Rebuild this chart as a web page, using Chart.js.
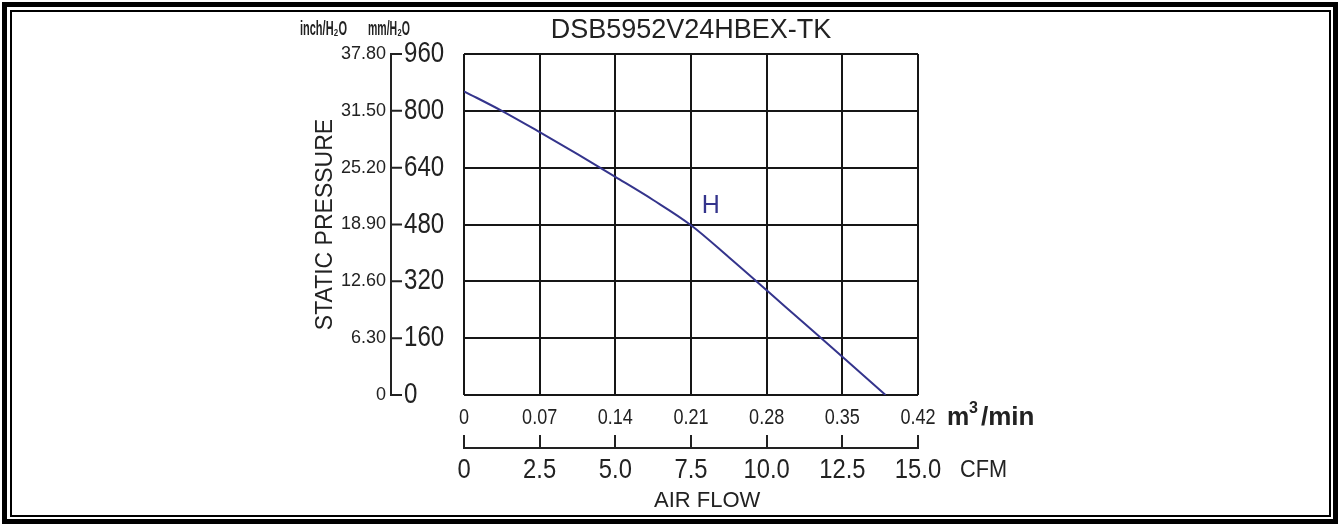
<!DOCTYPE html>
<html>
<head>
<meta charset="utf-8">
<title>DSB5952V24HBEX-TK</title>
<script src="https://cdn.jsdelivr.net/npm/chart.js@4.4.1/dist/chart.umd.min.js"></script>
<style>
  html, body { margin: 0; padding: 0; background: #fff; }
  #wrap { position: relative; width: 1339px; height: 524px; overflow: hidden; }
  #pqChart { position: absolute; left: 0; top: 0; }
  .frame { position: absolute; box-sizing: border-box; border-style: solid; border-color: #000; pointer-events: none; }
  #frameOuter { left: 2px; top: 2px; width: 1336px; height: 522px; border-width: 5px; }
  #frameInner { left: 10px; top: 10px; width: 1321px; height: 507px; border-width: 2px; }
</style>
</head>
<body>
<div id="wrap">
  <canvas id="pqChart" width="1339" height="524"></canvas>
  <div class="frame" id="frameOuter"></div>
  <div class="frame" id="frameInner"></div>
</div>
<script>
// Datos de la curva P-Q
const flowM3 = [0, 0.035, 0.07, 0.105, 0.14, 0.175, 0.21, 0.245, 0.28, 0.315, 0.35, 0.39];
const pressureMm = [855, 800, 740, 678, 614, 549, 478, 388, 295, 201, 108, 0];

// Marcas de los ejes
const m3Ticks = [0, 0.07, 0.14, 0.21, 0.28, 0.35, 0.42];
const cfmTicks = [0, 2.5, 5.0, 7.5, 10.0, 12.5, 15.0];
const mmTicks = [0, 160, 320, 480, 640, 800, 960];
const inchTicks = [0, 6.30, 12.60, 18.90, 25.20, 31.50, 37.80];

const modelName = 'DSB5952V24HBEX-TK';
const curveName = 'H';
const curveLabelAt = { x: 0.22, y: 512 };

const FONT = "'Liberation Sans', Arial, sans-serif";
const INK = '#222';
const GRID = '#161616';
const CURVE = '#34348c';

const fixTicks = values => scale => { scale.ticks = values.map(v => ({ value: v })); };
const fmt = digits => v => (v === 0 ? '0' : Number(v).toFixed(digits));

// texto estrecho (la fuente original es tipo Arial Narrow)
const squeezeText = (ctx, text, x, y, squeeze) => {
    ctx.save();
    ctx.translate(x, y);
    ctx.scale(squeeze, 1);
    ctx.fillText(text, 0, 0);
    ctx.restore();
};
const fitText = (ctx, text, x, y, width) => {
    squeezeText(ctx, text, x, y, Math.min(1, width / ctx.measureText(text).width));
};

const drawScaleLabels = (ctx, scale, values, format, opt) => {
    ctx.font = opt.size + 'px ' + FONT;
    ctx.textAlign = opt.align;
    ctx.textBaseline = 'middle';
    values.forEach(v => {
        const p = scale.getPixelForValue(v);
        const horiz = scale.isHorizontal();
        squeezeText(ctx, format(v), horiz ? p : opt.at, horiz ? opt.at : p, opt.squeeze);
    });
};

const decorPlugin = {
    id: 'decor',
    afterDraw(chart) {
        const { ctx, scales: { x, x2, y } } = chart;
        ctx.save();
        ctx.strokeStyle = INK;
        ctx.lineWidth = 2;

        // eje mm/H2O con marcas hacia la derecha
        const axX = y.left - 12;
        ctx.beginPath();
        ctx.moveTo(axX, y.getPixelForValue(mmTicks[mmTicks.length - 1]) - 1);
        ctx.lineTo(axX, y.getPixelForValue(0) + 1);
        mmTicks.forEach(v => {
            const py = y.getPixelForValue(v);
            ctx.moveTo(axX, py);
            ctx.lineTo(axX + 11, py);
        });
        // linea del eje CFM
        const lineY = x2.top + 13;
        ctx.moveTo(x2.left - 1, lineY);
        ctx.lineTo(x2.right + 1, lineY);
        ctx.stroke();

        ctx.fillStyle = INK;
        drawScaleLabels(ctx, y, mmTicks, String, { size: 29, align: 'left', at: y.left + 1, squeeze: 0.83 });
        drawScaleLabels(ctx, x, m3Ticks, fmt(2), { size: 22, align: 'center', at: x.top + 23, squeeze: 0.82 });
        drawScaleLabels(ctx, x2, cfmTicks, fmt(1), { size: 28, align: 'center', at: x2.top + 35, squeeze: 0.85 });

        // unidades
        ctx.textBaseline = 'alphabetic';
        ctx.textAlign = 'left';
        const ux = x.right + 29, uy = x.top + 30;
        ctx.font = 'bold 25px ' + FONT;
        ctx.fillText('m', ux, uy);
        ctx.font = 'bold 26px ' + FONT;
        fitText(ctx, '/min', ux + 34, uy, 60);
        ctx.font = 'bold 16px ' + FONT;
        ctx.fillText('3', ux + 22, uy - 12);

        ctx.font = '24px ' + FONT;
        fitText(ctx, 'CFM', x2.right + 42, x2.top + 42, 47);
        ctx.font = '22px ' + FONT;
        fitText(ctx, 'AIR FLOW', 654, x2.top + 72, 112);

        ctx.font = 'bold 20px ' + FONT;
        fitText(ctx, 'inch/H₂O', 300, 35, 47);
        fitText(ctx, 'mm/H₂O', 368, 35, 42);

        // nombre de la curva
        ctx.fillStyle = CURVE;
        ctx.font = '25px ' + FONT;
        ctx.fillText(curveName, x.getPixelForValue(curveLabelAt.x), y.getPixelForValue(curveLabelAt.y));
        ctx.restore();
    }
};

new Chart(document.getElementById('pqChart'), {
    type: 'scatter',
    data: {
        datasets: [{
            label: curveName,
            data: flowM3.map((f, i) => ({ x: f, y: pressureMm[i] })),
            showLine: true,
            borderColor: CURVE,
            borderWidth: 2,
            pointRadius: 0,
            cubicInterpolationMode: 'monotone',
            xAxisID: 'x',
            yAxisID: 'y'
        }]
    },
    options: {
        responsive: false,
        animation: false,
        layout: { padding: { left: 300, right: 421, top: 0, bottom: 9 } },
        plugins: {
            legend: { display: false },
            tooltip: { enabled: false }
        },
        scales: {
            xTop: {
                type: 'linear', position: 'top', min: 0, max: 0.42,
                afterFit: s => { s.height = 54; },
                grid: { display: false, drawTicks: false },
                border: { display: false },
                ticks: { display: false },
                title: { display: true, text: modelName, color: INK, font: { family: FONT, size: 27 }, padding: { top: 14, bottom: 0 } }
            },
            x: {
                type: 'linear', position: 'bottom', weight: 0, min: 0, max: 0.42,
                afterBuildTicks: fixTicks(m3Ticks),
                afterFit: s => { s.height = 40; },
                grid: { color: GRID, lineWidth: 2, drawTicks: false },
                border: { display: false },
                ticks: { display: false }
            },
            x2: {
                type: 'linear', position: 'bottom', weight: 1, min: 0, max: 15,
                afterBuildTicks: fixTicks(cfmTicks),
                afterFit: s => { s.height = 80; },
                grid: { drawOnChartArea: false, color: INK, lineWidth: 2, tickLength: 13 },
                border: { display: false },
                ticks: { display: false }
            },
            y: {
                type: 'linear', position: 'left', weight: 0, min: 0, max: 960,
                afterBuildTicks: fixTicks(mmTicks),
                afterFit: s => { s.width = 61; },
                grid: { color: GRID, lineWidth: 2, drawTicks: false },
                border: { display: false },
                ticks: { display: false }
            },
            y2: {
                type: 'linear', position: 'left', weight: 1, min: 0, max: 37.8,
                afterBuildTicks: fixTicks(inchTicks),
                afterFit: s => { s.width = 103; },
                grid: { display: false, drawTicks: false },
                border: { display: false },
                ticks: { padding: 17, autoSkip: false, color: INK, font: { family: FONT, size: 18 }, callback: fmt(2) },
                title: { display: true, text: 'STATIC PRESSURE', color: INK, font: { family: FONT, size: 23 }, padding: { top: 12, bottom: 0 } }
            }
        }
    },
    plugins: [decorPlugin]
});
</script>
</body>
</html>
